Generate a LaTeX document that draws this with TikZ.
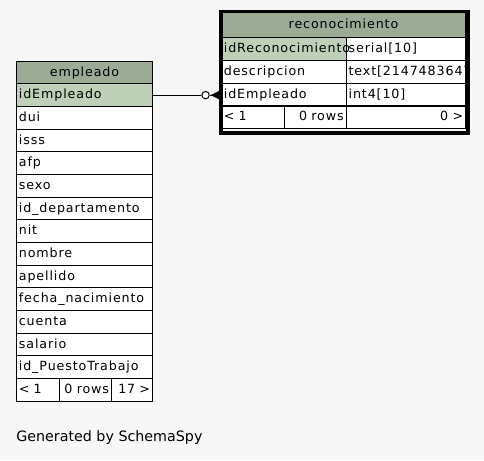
\documentclass[tikz,border=0pt]{standalone}
\usepackage{fontspec}
\newfontfamily\tabfont[LetterSpace=7,HyphenChar=None]{DejaVu Sans}
\newfontfamily\genfont{DejaVu Sans}
\definecolor{bgc}{HTML}{F7F7F7}
\definecolor{hdrc}{HTML}{9BAB96}
\definecolor{pkc}{HTML}{BED1B8}
\tikzset{
  cell/.style={anchor=north west, draw=black, line width=0.75pt, fill=white,
    minimum height=17pt, inner xsep=1.8pt, inner ysep=0pt, align=left,
    text height=7.6pt, text depth=2.2pt,
    font=\fontsize{9.5pt}{11pt}\tabfont},
  hdr/.style={cell, fill=hdrc, align=center},
  rcell/.style={cell, align=right},
  conn/.style={draw=black, line width=0.75pt},
}
\begin{document}
\begin{tikzpicture}[x=0.75pt,y=-0.75pt]
\fill[bgc] (0,0) rectangle (484,460);
\useasboundingbox (0,0) rectangle (484,460);
% empleado table
\node[hdr, minimum width=102pt, minimum height=17pt, text width=98.4pt] (eh) at (16,60.6) {empleado};
\foreach \t [count=\i from 0] in {idEmpleado,dui,isss,afp,sexo,id\_departamento,nit,nombre,apellido,fecha\_nacimiento,cuenta,salario,id\_PuestoTrabajo}{
  \ifnum\i=0
    \node[cell, fill=pkc, minimum width=102pt, text width=98.4pt] (e\i) at (16,{83.3+22.67*\i}) {\t};
  \else
    \node[cell, minimum width=102pt, text width=98.4pt] (e\i) at (16,{83.3+22.67*\i}) {\t};
  \fi
}
\node[cell, minimum width=32.5pt, text width=28.9pt] (ef1) at (16,378) {< 1};
\node[rcell, minimum width=38.75pt, text width=35.15pt] (ef2) at (59.3,378) {0 rows};
\node[rcell, minimum width=30.75pt, text width=27.15pt] (ef3) at (111,378) {17 >};
% reconocimiento table
\begin{scope}
\clip (219,9) rectangle (467,133);
\node[hdr, minimum width=183pt, minimum height=19pt, text width=179.4pt] (rh) at (221,12) {reconocimiento};
\node[cell, minimum width=89.5pt, text width=85.9pt] (r1t) at (345.7,37.3) {serial[10]};
\node[cell, fill=pkc, minimum width=93.5pt, text width=89.9pt, fill opacity=1, text opacity=1] (r1) at (221,37.3) {idReconocimiento};
\node[cell, minimum width=89.5pt, text width=85.9pt] (r2t) at (345.7,60.05) {text[2147483647]};
\node[cell, minimum width=93.5pt, text width=89.9pt] (r2) at (221,60.05) {descripcion};
\node[cell, minimum width=89.5pt, text width=85.9pt] (r3t) at (345.7,82.8) {int4[10]};
\node[cell, minimum width=93.5pt, text width=89.9pt] (r3) at (221,82.8) {idEmpleado};
\node[cell, minimum width=47.5pt, text width=43.9pt] (rf1) at (221,105.55) {< 1};
\node[rcell, minimum width=46pt, text width=42.4pt] (rf2) at (284.3,105.55) {0 rows};
\node[rcell, minimum width=89.5pt, text width=85.9pt] (rf3) at (345.7,105.55) {0 >};
\end{scope}
\node[draw=black, line width=2.4pt, anchor=north west, minimum width=185.25pt, minimum height=91pt, inner sep=0pt] (rbox) at (219.3,10) {};
% connector
\node[draw=black, line width=0.75pt, fill=white, circle, minimum size=5.5pt, inner sep=0pt, xshift=39.4pt] (odot) at (e0.east) {};
\draw[conn] (e0.east) -- (odot.west);
\draw[conn] (odot.east) -- (odot.east -| rbox.west);
\coordinate[xshift=3.8pt] (cf) at (odot.center);
\fill[black] (cf) -- ([yshift=3.3pt]cf -| rbox.west) -- ([yshift=-3.3pt]cf -| rbox.west) -- cycle;
% footer text
\node[anchor=west, inner sep=0pt, font=\fontsize{10.7pt}{12pt}\genfont] (gen) at (16,438) {Generated by SchemaSpy};
\end{tikzpicture}
\end{document}
